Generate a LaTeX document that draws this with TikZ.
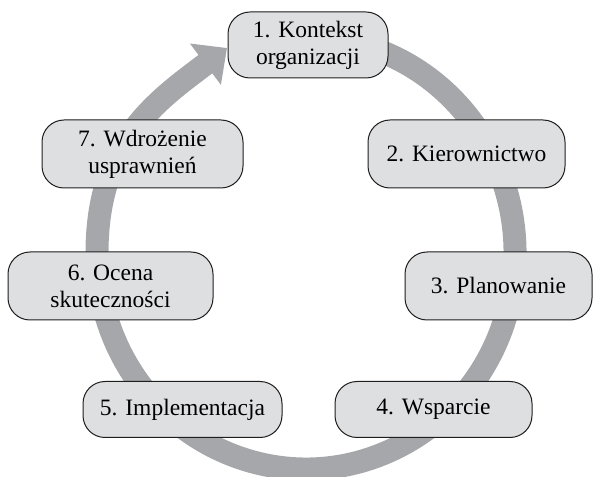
\documentclass[tikz,border=0pt]{standalone}
\usepackage{fontspec}
\setmainfont{Liberation Serif}
\newfontfamily\boxfont{Liberation Serif}
\usetikzlibrary{arrows.meta,calc}
\definecolor{ringgrey}{HTML}{A6A7AA}
\definecolor{boxgrey}{HTML}{DEDFE1}
\definecolor{boxline}{HTML}{1E1E1E}
\begin{document}
\begin{tikzpicture}[x=1pt,y=1pt,
  stepbox/.style={draw=boxline, line width=1pt, fill=boxgrey, rounded corners=22pt,
    inner sep=0pt, align=center, font=\boxfont\fontsize{23.5}{27}\selectfont},
  ring/.style={draw=ringgrey, line width=23pt, line cap=butt}]
\useasboundingbox (0,0) rectangle (595,477);
\coordinate (ctr) at (306,224);
\coordinate (ringstart) at ($(ctr)+(75:209 and 216)$);
\coordinate (tip) at (227,429);
% cycle ring with arrow
\draw[ring, -{Triangle[width=50pt,length=27pt]}]
  (ringstart) arc[start angle=75, end angle=-180, x radius=209, y radius=216]
  .. controls +(0,110) and (155,375) .. (tip);
% boxes
\node[stepbox, minimum width=160pt, minimum height=66pt] (n1) at (308,432) {1. Kontekst\\organizacji};
\node[stepbox, minimum width=197pt, minimum height=68pt] (n2) at (466.5,323) {2. Kierownictwo};
\node[stepbox, minimum width=187pt, minimum height=68pt] (n3) at (498.5,191) {3. Planowanie};
\node[stepbox, minimum width=197pt, minimum height=56pt] (n4) at (433.5,67.5) {4. Wsparcie};
\node[stepbox, minimum width=199pt, minimum height=56pt] (n5) at (182.5,67.5) {5. Implementacja};
\node[stepbox, minimum width=205pt, minimum height=68pt] (n6) at (110.5,191) {6. Ocena\\skuteczności};
\node[stepbox, minimum width=201pt, minimum height=68pt] (n7) at (142.5,323) {7. Wdrożenie\\usprawnień};
\end{tikzpicture}
\end{document}
